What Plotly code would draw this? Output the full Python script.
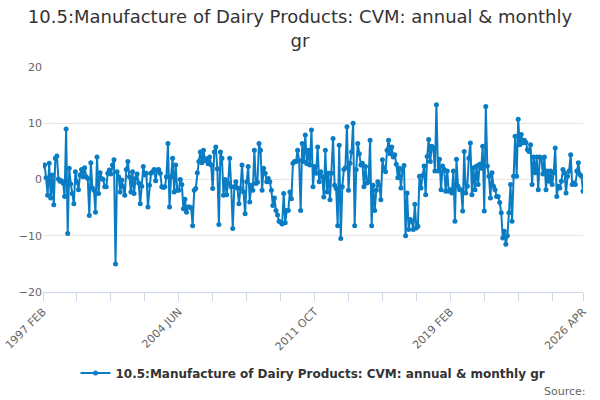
import pandas as pd
import plotly.graph_objects as go

# monthly series, 1997 FEB .. 2026 APR
start_month = '1997-02'
n_months = 351

y_1997 = [2.4, 2.6, 0.3, -2.8, 2.9, -3.3, 0.8, -4.5, 3.8, 4.2, 0.1]
y_1998 = [-0.3, -0.2, -0.6, -3.0, 9.0, -9.6, 2.0, -0.8, -2.5, -4.3, 1.4, -0.5]
y_1999 = [-1.8, 0.8, 1.8, 0.5, 2.1, 0.5, 0.2, -6.4, 3.0, -1.5, -1.9, -5.8]
y_2000 = [4.0, -2.5, 1.2, 0.2, 0.0, -1.3, -1.3, 1.1, 1.7, 1.0, 2.6, 3.5]
y_2001 = [-15.0, 1.4, 0.5, -2.2, -0.1, -1.3, -2.8, 1.8, 3.2, 0.5, -2.2, 1.4]
y_2002 = [-2.5, 0.2, 1.0, -0.6, -4.3, -1.2, 2.3, 0.8, 1.1, -4.9, -1.0, 1.1]
y_2003 = [1.4, 1.8, -0.2, 1.7, 1.8, 1.1, -1.3, -1.4, -1.3, 0.5, 6.4, -4.9]
y_2004 = [0.5, 3.8, -2.2, 2.6, -1.9, -1.9, 0.0, -0.9, -5.2, -3.5, -5.8, -4.9]
y_2005 = [-4.9, -5.0, -8.2, -1.9, -1.6, 1.2, 3.2, 4.9, 3.0, 5.2, 3.4, 3.7]
y_2006 = [2.8, 4.0, 2.6, -1.6, 4.9, 5.8, 1.9, -8.0, 4.9, 3.8, -2.8, 0.0]
y_2007 = [-2.7, -0.6, 3.8, -1.3, -8.7, -1.3, -0.4, -1.5, -4.3, -1.6, 2.6, -2.2]
y_2008 = [-6.1, -0.4, 2.3, -4.0, -1.0, -1.9, 5.2, -0.7, -0.5, 6.4, 5.2, -1.9]
y_2009 = [2.0, 1.1, -0.4, 0.2, -0.4, -1.9, -4.6, -3.3, -5.5, -6.3, -7.4, -7.6]
y_2010 = [-7.9, -2.5, -7.7, -5.5, -5.5, -2.2, -3.4, 2.9, 3.2, 3.2, 5.2, 3.4]
y_2011 = [-5.5, 6.4, 3.2, 7.9, 2.8, 5.2, 2.6, 8.8, -1.3, 2.3, 1.1, 5.8]
y_2012 = [-0.4, 1.4, 0.5, -3.1, 5.2, -2.2, 1.1, -3.6, 1.1, 7.3, -1.0, -1.6]
y_2013 = [-8.2, 6.1, -10.5, -1.3, 1.8, 2.1, 9.4, -1.9, 2.9, 4.9, 10.0, -8.2]
y_2014 = [1.8, 6.4, 4.6, 2.6, 2.9, -1.3, 2.3, -0.6, -0.4, 7.0, -8.2, -1.0]
y_2015 = [-5.5, -1.9, -0.4, -1.0, -3.6, 3.5, 2.0, 1.4, 5.2, 7.0, 4.6, 5.8]
y_2016 = [4.0, 4.4, 2.7, 0.3, 2.0, -1.5, 1.8, 2.5, -10.0, -2.4, -8.9, -7.1]
y_2017 = [-7.4, -8.9, -4.4, -8.6, -8.3, 0.6, -1.5, 0.7, 2.4, -2.7, 4.1, 7.1]
y_2018 = [3.2, 5.9, 5.6, 1.5, 13.3, 1.5, 3.6, -1.8, 2.4, 1.8, -2.1, 1.5]
y_2019 = [-2.1, -1.8, -2.4, 1.5, -7.4, 3.6, -1.2, -1.8, -1.8, -5.6, 5.0, -2.4]
y_2020 = [-1.2, 3.8, 6.5, -2.7, 2.1, -1.8, 2.4, -0.9, 2.7, 2.0, 5.9, -5.6]
y_2021 = [13.0, 2.4, 0.6, -3.3, 1.2, -1.2, -1.8, -3.0, -3.0, -4.1, -5.9, -10.4]
y_2022 = [-9.2, -11.5, -10.0, -5.9, -0.9, -7.4, 0.6, 7.7, 0.6, 10.7, 6.2, 8.0]
y_2023 = [6.5, 7.0, 6.6, 5.3, 5.0, 6.2, -0.9, 4.0, 1.2, 4.0, -1.8, 4.0]
y_2024 = [3.8, 1.0, 4.0, -1.8, 1.5, -0.3, 1.5, -0.9, 1.2, 5.6, -3.0, -1.2]
y_2025 = [-1.5, -0.3, 1.8, 1.2, -2.4, 0.6, 1.5, 4.4, -0.9, -0.6, -0.9, 1.5]
y_2026 = [3.0, 0.9, 0.6, -2.1]

values = (y_1997 + y_1998 + y_1999 + y_2000 + y_2001 + y_2002 + y_2003 + y_2004
          + y_2005 + y_2006 + y_2007 + y_2008 + y_2009 + y_2010 + y_2011 + y_2012
          + y_2013 + y_2014 + y_2015 + y_2016 + y_2017 + y_2018 + y_2019 + y_2020
          + y_2021 + y_2022 + y_2023 + y_2024 + y_2025 + y_2026)

months = [p.strftime('%Y %b').upper() for p in pd.period_range(start_month, periods=n_months, freq='M')]
labelled = ['1997 FEB', '2004 JUN', '2011 OCT', '2019 FEB', '2026 APR']
tick_months = months[::22] + [months[-1]]
tick_text = [m if m in labelled else '' for m in tick_months]

series_name = '10.5:Manufacture of Dairy Products: CVM: annual & monthly gr'
blue = '#0a7cc4'

fig = go.Figure()
fig.add_trace(go.Scatter(
    x=months, y=values, mode='lines+markers', name=series_name,
    line=dict(color=blue, width=2), marker=dict(color=blue, size=5),
))

fig.update_layout(
    width=600, height=400,
    paper_bgcolor='white', plot_bgcolor='white',
    font=dict(family='DejaVu Sans', color='#666666', size=11),
    margin=dict(l=43, r=17, t=67, b=108),
    title=dict(text='10.5:Manufacture of Dairy Products: CVM: annual & monthly<br>gr',
               x=0.5, xanchor='center', y=0.942, yanchor='middle',
               font=dict(size=18, color='#333333')),
    showlegend=True,
    legend=dict(orientation='h', x=0.5, xanchor='center', y=-0.36, yanchor='middle',
                font=dict(size=12, color='#333333', weight='bold')),
    annotations=[dict(text='Source:', xref='paper', yref='paper', x=1.01, y=-0.44,
                      xanchor='right', yanchor='middle', showarrow=False,
                      font=dict(size=11, color='#666666'))],
)
fig.update_xaxes(
    type='category', range=[0, n_months - 1], automargin=False,
    tickmode='array', tickvals=tick_months, ticktext=tick_text,
    tickangle=-45, ticks='outside', ticklen=8, tickcolor='#ccd6eb',
    showline=True, linecolor='#ccd6eb', linewidth=1, showgrid=False,
)
fig.update_yaxes(
    range=[-20, 20], tickvals=[-20, -10, 0, 10, 20], automargin=False,
    showgrid=True, gridcolor='#e6e6e6', zeroline=False, ticks='', showline=False,
)

# drop the browser's default body margin so the 600x400 figure fills the window
fig.write_html('out.html', config={'displayModeBar': False},
               post_script="document.body.style.margin = '0';")
